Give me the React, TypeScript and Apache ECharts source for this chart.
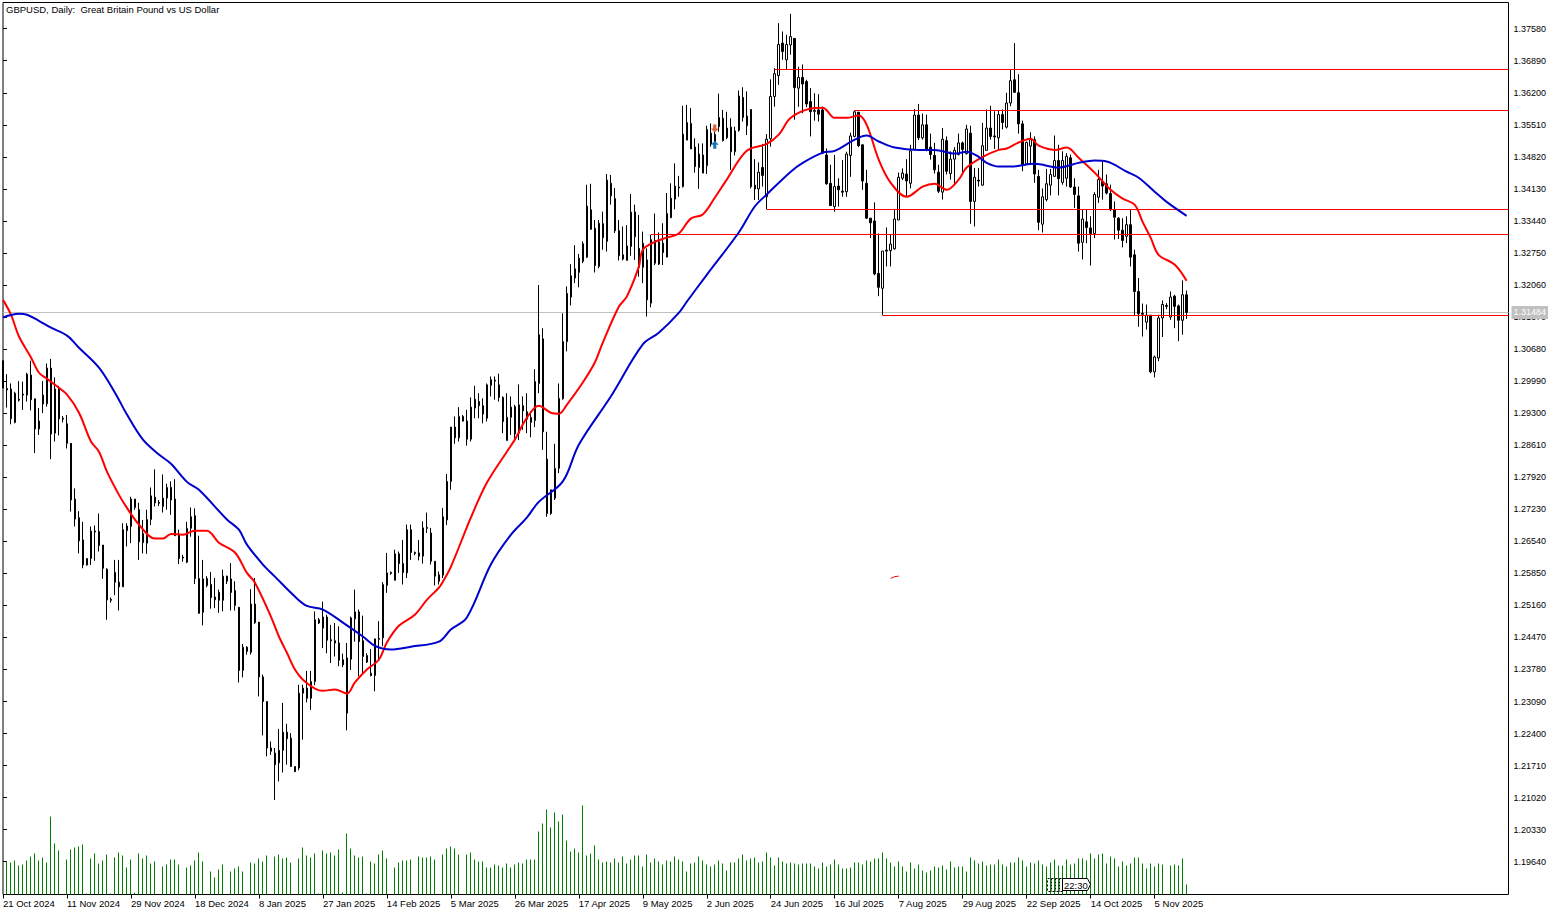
/** GBPUSD daily chart with moving averages, levels and tick volume */
import { useEffect, useRef } from "react";
import * as echarts from "echarts";

const CHART_FONT = "'Liberation Sans', sans-serif";

// every 16th bar gets a date label
const dateLabels = [
  "21 Oct 2024", "11 Nov 2024", "29 Nov 2024", "18 Dec 2024", "8 Jan 2025", "27 Jan 2025", "14 Feb 2025",
  "5 Mar 2025", "26 Mar 2025", "17 Apr 2025", "9 May 2025", "2 Jun 2025", "24 Jun 2025", "16 Jul 2025",
  "7 Aug 2025", "29 Aug 2025", "22 Sep 2025", "14 Oct 2025", "5 Nov 2025",
];

const priceTicks = [
  1.3758, 1.3689, 1.362, 1.3551, 1.3482, 1.3413, 1.3344, 1.3275, 1.3206, 1.3137, 1.3068, 1.2999, 1.293, 1.2861,
  1.2792, 1.2723, 1.2654, 1.2585, 1.2516, 1.2447, 1.2378, 1.2309, 1.224, 1.2171, 1.2102, 1.2033, 1.1964,
];

// open, high, low, close in 1/10000 of a dollar, one row per bar
const ohlc = [
  [13043, 13043, 12984, 12984], [12983, 13014, 12942, 12980], [12982, 12994, 12906, 12918], [12910, 12976, 12908, 12973],
  [12960, 12999, 12955, 12958], [12971, 12998, 12937, 12969], [12969, 13017, 12955, 13014], [13012, 13043, 12936, 12959],
  [12961, 12961, 12844, 12896], [12896, 12941, 12883, 12913], [12969, 12999, 12930, 12950], [12950, 13037, 12944, 13027],
  [13027, 13047, 12831, 12885], [12887, 13007, 12869, 12982], [12982, 12989, 12882, 12918], [12919, 12924, 12910, 12917],
  [12907, 12926, 12854, 12865], [12865, 12865, 12718, 12743], [12745, 12768, 12686, 12702], [12705, 12719, 12628, 12655],
  [12657, 12696, 12596, 12603], [12603, 12618, 12602, 12617], [12617, 12686, 12603, 12676], [12676, 12688, 12612, 12674],
  [12675, 12714, 12632, 12645], [12646, 12646, 12573, 12596], [12594, 12596, 12485, 12528], [12529, 12533, 12522, 12527],
  [12587, 12614, 12538, 12566], [12566, 12614, 12505, 12556], [12556, 12693, 12556, 12679], [12677, 12693, 12643, 12687],
  [12686, 12750, 12650, 12745], [12745, 12745, 12722, 12727], [12722, 12737, 12614, 12653], [12651, 12700, 12628, 12671],
  [12650, 12722, 12627, 12701], [12701, 12770, 12689, 12752], [12749, 12809, 12729, 12737], [12738, 12743, 12730, 12736],
  [12729, 12798, 12716, 12747], [12747, 12778, 12722, 12770], [12770, 12783, 12711, 12743], [12745, 12788, 12666, 12666],
  [12668, 12679, 12605, 12617], [12620, 12625, 12610, 12618], [12609, 12696, 12607, 12682], [12682, 12727, 12664, 12707],
  [12709, 12725, 12562, 12574], [12574, 12666, 12498, 12499], [12501, 12614, 12473, 12573], [12574, 12579, 12555, 12559],
  [12561, 12588, 12509, 12533], [12534, 12575, 12510, 12528], [12544, 12550, 12500, 12527], [12527, 12593, 12503, 12579],
  [12579, 12580, 12562, 12568], [12573, 12607, 12505, 12544], [12548, 12568, 12505, 12516], [12512, 12512, 12350, 12376],
  [12376, 12433, 12361, 12426], [12426, 12428, 12410, 12417], [12415, 12551, 12410, 12519], [12519, 12575, 12476, 12479],
  [12480, 12480, 12320, 12362], [12362, 12367, 12236, 12309], [12309, 12309, 12191, 12209], [12209, 12223, 12194, 12202],
  [12198, 12209, 12097, 12173], [12177, 12250, 12137, 12204], [12204, 12306, 12156, 12243], [12243, 12261, 12173, 12229],
  [12230, 12241, 12169, 12169], [12169, 12169, 12158, 12158], [12166, 12345, 12161, 12327], [12327, 12345, 12227, 12338],
  [12338, 12375, 12307, 12316], [12316, 12375, 12291, 12352], [12352, 12503, 12344, 12485], [12485, 12489, 12476, 12478],
  [12467, 12524, 12424, 12491], [12491, 12496, 12413, 12441], [12442, 12474, 12392, 12440], [12440, 12478, 12406, 12435],
  [12435, 12471, 12385, 12398], [12399, 12412, 12383, 12388], [12284, 12435, 12247, 12403], [12400, 12492, 12377, 12489],
  [12487, 12550, 12438, 12502], [12502, 12507, 12363, 12438], [12440, 12494, 12370, 12406], [12408, 12413, 12392, 12394],
  [12370, 12422, 12363, 12365], [12365, 12444, 12331, 12444], [12445, 12482, 12399, 12443], [12446, 12566, 12428, 12561],
  [12559, 12629, 12543, 12586], [12587, 12589, 12582, 12585], [12570, 12636, 12570, 12627], [12627, 12632, 12586, 12606],
  [12606, 12657, 12561, 12587], [12586, 12690, 12575, 12679], [12679, 12690, 12614, 12630], [12630, 12632, 12624, 12628],
  [12629, 12657, 12613, 12622], [12622, 12697, 12606, 12683], [12684, 12716, 12672, 12682], [12672, 12683, 12604, 12611],
  [12611, 12611, 12559, 12579], [12582, 12589, 12561, 12568], [12581, 12726, 12575, 12707], [12700, 12799, 12689, 12783],
  [12783, 12900, 12765, 12900], [12900, 12923, 12864, 12877], [12877, 12943, 12869, 12923], [12923, 12926, 12912, 12913],
  [12913, 12937, 12860, 12874], [12874, 12964, 12869, 12943], [12941, 12989, 12919, 12960], [12955, 12973, 12919, 12946],
  [12946, 12962, 12908, 12928], [12919, 12994, 12912, 12991], [12990, 13009, 12966, 13002], [13001, 13009, 12959, 12999],
  [12991, 13015, 12955, 12964], [12964, 12966, 12887, 12912], [12871, 12973, 12871, 12921], [12921, 12966, 12883, 12943],
  [12944, 12948, 12871, 12885], [12887, 12992, 12872, 12948], [12946, 12966, 12894, 12935], [12933, 12973, 12887, 12917],
  [12910, 12933, 12878, 12921], [12914, 13025, 12900, 12998], [12994, 13206, 12973, 13099], [13090, 13113, 12851, 12890],
  [12831, 12890, 12707, 12714], [12714, 12765, 12711, 12765], [12747, 12864, 12743, 12811], [12811, 12994, 12801, 12962],
  [12961, 13145, 12959, 13084], [13084, 13203, 13063, 13188], [13180, 13251, 13162, 13226], [13221, 13292, 13210, 13241],
  [13233, 13273, 13201, 13264], [13257, 13300, 13253, 13295], [13266, 13422, 13264, 13376], [13368, 13424, 13325, 13326],
  [13328, 13346, 13233, 13248], [13246, 13346, 13242, 13339], [13338, 13364, 13282, 13308], [13300, 13445, 13278, 13432],
  [13425, 13443, 13379, 13398], [13392, 13415, 13318, 13323], [13323, 13346, 13259, 13269], [13271, 13332, 13259, 13262],
  [13259, 13335, 13259, 13290], [13289, 13402, 13269, 13363], [13363, 13379, 13260, 13310], [13285, 13357, 13224, 13244],
  [13244, 13321, 13210, 13296], [13260, 13285, 13138, 13174], [13167, 13314, 13158, 13304], [13302, 13360, 13249, 13253],
  [13251, 13319, 13249, 13299], [13296, 13339, 13249, 13276], [13266, 13404, 13266, 13360], [13351, 13425, 13350, 13393],
  [13391, 13468, 13369, 13419], [13417, 13441, 13396, 13415], [13418, 13592, 13416, 13531], [13518, 13594, 13518, 13556],
  [13554, 13587, 13499, 13499], [13503, 13522, 13448, 13461], [13459, 13511, 13413, 13488], [13486, 13511, 13447, 13447],
  [13463, 13549, 13445, 13541], [13533, 13554, 13504, 13510], [13530, 13536, 13504, 13515], [13547, 13618, 13536, 13567],
  [13565, 13583, 13515, 13517], [13523, 13579, 13520, 13544], [13546, 13565, 13454, 13493], [13493, 13547, 13485, 13538],
  [13539, 13625, 13536, 13613], [13610, 13632, 13558, 13567], [13549, 13623, 13529, 13570], [13584, 13584, 13414, 13418],
  [13421, 13477, 13389, 13413], [13413, 13470, 13389, 13449], [13459, 13510, 13418, 13442], [13396, 13531, 13369, 13520],
  [13521, 13649, 13504, 13612], [13612, 13673, 13590, 13661], [13657, 13770, 13637, 13724], [13727, 13752, 13691, 13709],
  [13691, 13745, 13671, 13724], [13723, 13790, 13702, 13741], [13737, 13737, 13562, 13631], [13630, 13676, 13590, 13653],
  [13653, 13681, 13576, 13639], [13644, 13648, 13589, 13596], [13601, 13630, 13526, 13579], [13582, 13619, 13560, 13580],
  [13583, 13617, 13558, 13574], [13583, 13590, 13488, 13490], [13486, 13500, 13422, 13424], [13425, 13465, 13377, 13377],
  [13375, 13486, 13364, 13418], [13419, 13436, 13375, 13411], [13408, 13475, 13396, 13406], [13407, 13493, 13396, 13488],
  [13485, 13534, 13439, 13527], [13526, 13582, 13524, 13579], [13578, 13579, 13503, 13506], [13508, 13508, 13411, 13430],
  [13425, 13454, 13348, 13350], [13350, 13350, 13307, 13340], [13344, 13384, 13227, 13230], [13231, 13317, 13182, 13201],
  [13199, 13279, 13141, 13279], [13281, 13330, 13246, 13279], [13280, 13314, 13246, 13294], [13284, 13368, 13282, 13348],
  [13346, 13448, 13346, 13438], [13436, 13457, 13432, 13447], [13445, 13477, 13396, 13430], [13425, 13508, 13414, 13495],
  [13497, 13585, 13497, 13572], [13572, 13596, 13518, 13523], [13523, 13575, 13519, 13551], [13551, 13573, 13494, 13498],
  [13503, 13532, 13476, 13487], [13485, 13512, 13446, 13454], [13449, 13465, 13404, 13408], [13406, 13544, 13390, 13520],
  [13517, 13526, 13444, 13451], [13446, 13494, 13433, 13477], [13477, 13503, 13422, 13496], [13487, 13532, 13485, 13512],
  [13512, 13515, 13446, 13498], [13489, 13551, 13487, 13542], [13533, 13549, 13338, 13386], [13386, 13458, 13332, 13438],
  [13432, 13458, 13418, 13430], [13421, 13555, 13420, 13506], [13496, 13584, 13496, 13544], [13544, 13592, 13519, 13526],
  [13527, 13580, 13499, 13525], [13523, 13581, 13499, 13573], [13573, 13584, 13541, 13556], [13546, 13620, 13543, 13598],
  [13598, 13670, 13591, 13646], [13648, 13727, 13620, 13621], [13620, 13660, 13532, 13553], [13553, 13560, 13451, 13465],
  [13467, 13515, 13465, 13513], [13505, 13535, 13465, 13519], [13519, 13526, 13426, 13445], [13440, 13454, 13324, 13341],
  [13337, 13414, 13319, 13396], [13390, 13456, 13386, 13424], [13421, 13456, 13399, 13444], [13440, 13528, 13439, 13474],
  [13474, 13508, 13399, 13435], [13427, 13494, 13422, 13474], [13436, 13490, 13418, 13483], [13480, 13487, 13415, 13417],
  [13417, 13436, 13372, 13401], [13398, 13418, 13278, 13296], [13298, 13368, 13261, 13348], [13342, 13368, 13296, 13330],
  [13329, 13354, 13248, 13317], [13317, 13406, 13307, 13401], [13395, 13454, 13383, 13433], [13429, 13472, 13390, 13419],
  [13424, 13444, 13401, 13404], [13403, 13422, 13365, 13368], [13368, 13386, 13304, 13352], [13350, 13352, 13305, 13324],
  [13324, 13350, 13287, 13302], [13311, 13354, 13296, 13336], [13336, 13368, 13246, 13266], [13271, 13282, 13139, 13192],
  [13192, 13221, 13116, 13144], [13145, 13166, 13095, 13143], [13126, 13164, 13110, 13141], [13141, 13141, 13016, 13019],
  [13019, 13054, 13007, 13051], [13049, 13142, 13042, 13135], [13135, 13173, 13094, 13164], [13162, 13167, 13154, 13160],
  [13137, 13192, 13131, 13180], [13182, 13185, 13113, 13160], [13161, 13164, 13085, 13130], [13130, 13216, 13099, 13185],
  [13185, 13194, 13133, 13147],
];

// tick volume in thousands, one value per bar
const volumes = [
  0, 33, 32, 34, 29, 30, 34, 38, 41, 34, 37, 32, 78, 51, 44, 0, 35, 45, 47, 48, 50, 1, 36, 41, 31, 34, 40, 1, 37, 42,
  39, 27, 35, 2, 41, 36, 39, 31, 33, 0, 28, 30, 35, 35, 30, 0, 27, 29, 34, 42, 33, 0, 23, 17, 25, 30, 0, 23, 26, 28,
  23, 0, 32, 31, 36, 33, 39, 0, 38, 40, 36, 37, 32, 0, 36, 47, 39, 37, 41, 1, 44, 41, 42, 39, 45, 2, 61, 46, 39, 37,
  38, 1, 33, 31, 40, 44, 36, 0, 27, 32, 34, 34, 35, 0, 38, 37, 37, 38, 35, 0, 40, 46, 48, 46, 40, 0, 40, 42, 35, 33,
  33, 27, 27, 30, 29, 27, 31, 27, 30, 32, 31, 35, 35, 35, 63, 71, 85, 67, 82, 73, 80, 54, 43, 46, 42, 89, 39, 41, 49, 35,
  32, 33, 32, 36, 32, 38, 31, 35, 39, 39, 28, 40, 32, 36, 33, 30, 34, 33, 38, 35, 33, 23, 31, 32, 38, 34, 30, 28, 30, 34,
  31, 24, 32, 32, 36, 40, 34, 36, 37, 32, 33, 42, 37, 29, 37, 33, 31, 32, 31, 30, 31, 31, 31, 28, 26, 32, 28, 30, 35, 30,
  26, 26, 27, 32, 32, 30, 34, 33, 36, 36, 42, 36, 32, 28, 33, 28, 23, 32, 26, 30, 24, 22, 24, 28, 27, 29, 25, 33, 27, 28,
  28, 23, 37, 34, 31, 33, 29, 30, 30, 35, 30, 28, 32, 32, 37, 34, 28, 32, 31, 34, 30, 28, 32, 35, 29, 29, 35, 30, 31, 36,
  36, 34, 41, 36, 40, 41, 31, 38, 36, 28, 33, 29, 31, 37, 37, 31, 26, 31, 28, 31, 30, 0, 29, 30, 29, 36, 10,
];

// moving averages read at bar index, price in 1/10000
const fastAverage = [
  [0, 13174], [2, 13142], [4, 13095], [7, 13050], [9, 13017], [11, 13004], [13, 12991], [16, 12970], [19, 12931],
  [22, 12869], [24, 12847], [26, 12804], [29, 12754], [31, 12726], [34, 12690], [38, 12660], [40, 12660], [42, 12670],
  [45, 12668], [48, 12677], [51, 12677], [54, 12651], [58, 12630], [61, 12586], [63, 12565], [67, 12492], [69, 12449],
  [71, 12414], [73, 12378], [75, 12356], [78, 12337], [80, 12332], [83, 12335], [86, 12326], [88, 12350], [91, 12378],
  [94, 12399], [96, 12436], [99, 12472], [103, 12496], [106, 12528], [109, 12554], [110, 12567], [112, 12599],
  [117, 12705], [121, 12780], [126, 12847], [128, 12873], [131, 12920], [134, 12946], [137, 12931], [139, 12929],
  [141, 12948], [145, 12996], [148, 13039], [150, 13082], [154, 13159], [156, 13181], [159, 13245], [160, 13282],
  [163, 13299], [166, 13308], [169, 13317], [172, 13349], [175, 13358], [178, 13394], [181, 13433], [186, 13495],
  [191, 13510], [194, 13530], [197, 13566], [202, 13586], [205, 13588], [208, 13566], [211, 13566], [214, 13571],
  [216, 13551], [219, 13476], [222, 13426], [226, 13396], [230, 13418], [233, 13424], [236, 13411], [239, 13433],
  [241, 13459], [245, 13482], [249, 13497], [251, 13500], [254, 13513], [257, 13521], [259, 13506], [263, 13497],
  [266, 13502], [269, 13480], [273, 13448], [277, 13411], [280, 13392], [283, 13379], [285, 13342], [287, 13308],
  [289, 13271], [293, 13250], [296, 13215],
];

const slowAverage = [
  [0, 13136], [4, 13144], [6, 13142], [9, 13129], [12, 13114], [16, 13097], [19, 13071], [24, 13028], [28, 12974],
  [31, 12927], [35, 12873], [39, 12841], [42, 12821], [46, 12782], [49, 12765], [56, 12701], [59, 12679], [61, 12647],
  [65, 12604], [68, 12578], [73, 12535], [76, 12515], [80, 12507], [85, 12479], [90, 12449], [93, 12429], [97, 12421],
  [102, 12427], [109, 12438], [112, 12464], [116, 12490], [122, 12604], [127, 12668], [131, 12705], [134, 12739],
  [140, 12783], [144, 12862], [152, 12966], [160, 13078], [164, 13103], [169, 13146], [171, 13170], [176, 13228],
  [184, 13319], [188, 13375], [191, 13401], [197, 13450], [200, 13469], [205, 13491], [208, 13495], [213, 13519],
  [216, 13528], [219, 13515], [223, 13502], [229, 13497], [233, 13497], [238, 13489], [241, 13493], [244, 13482],
  [246, 13469], [249, 13461], [252, 13461], [258, 13467], [264, 13459], [269, 13469], [273, 13474], [276, 13472],
  [281, 13450], [284, 13437], [288, 13407], [291, 13385], [296, 13355],
];

// horizontal levels: first bar, price
const levels = [
  [193, 1.36701],
  [213, 1.35818],
  [191, 1.33686],
  [162, 1.33148],
  [220, 1.31403],
];

const bidPrice = 1.31468;
const bidText = "1.31484";
const strayMark = [[222, 12574], [223, 12578], [224, 12579]];
const sellArrow = [[178, 13543]];
const buyArrow = [[178, 13508]];

const X_MAX = 376.5;
const upArrow = "path://M5 0 L10 5 L7 5 L7 10 L3 10 L3 5 L0 5 Z";
const downArrow = "path://M3 0 L7 0 L7 5 L10 5 L5 10 L0 5 L3 5 Z";

const toPrice = (v: number) => v / 10000;

const flatLine = (data: number[][], color: string, z: number, extra = {}) => ({
  type: "line",
  data,
  showSymbol: false,
  symbol: "none",
  silent: true,
  z,
  lineStyle: { color, width: 1 },
  ...extra,
});

export default function App() {
  const chartRef = useRef<HTMLDivElement>(null);

  useEffect(() => {
    if (!chartRef.current) return;
    document.body.style.margin = "0";

    const chart = echarts.init(chartRef.current, undefined, { renderer: "svg" });

    const option = {
      animation: false,
      backgroundColor: "#fff",
      title: {
        text: "GBPUSD, Daily:  Great Britain Pound vs US Dollar",
        left: 6,
        top: 4,
        padding: 0,
        textStyle: { fontSize: 9.5, fontWeight: "normal", fontFamily: CHART_FONT, color: "#000" },
      },
      grid: {
        show: true,
        left: 2.5,
        top: 2.5,
        width: 1506,
        height: 892,
        borderColor: "#000",
        borderWidth: 1,
        backgroundColor: "#fff",
      },
      xAxis: {
        type: "value",
        min: 0,
        max: X_MAX,
        splitLine: { show: false },
        axisLine: { show: false },
        axisTick: {
          show: true,
          length: 4,
          lineStyle: { color: "#000" },
          customValues: dateLabels.map((_, i) => i * 16),
        },
        axisLabel: {
          customValues: dateLabels.map((_, i) => i * 16),
          formatter: (v: number) => dateLabels[v / 16] ?? "",
          align: "left",
          margin: 4,
          fontSize: 9.5,
          fontFamily: CHART_FONT,
          color: "#000",
        },
      },
      yAxis: [
        {
          type: "value",
          position: "right",
          min: 1.18934,
          max: 1.38144,
          splitLine: { show: false },
          axisLine: { show: false },
          axisTick: { show: true, length: 4, lineStyle: { color: "#000" }, customValues: priceTicks },
          axisLabel: {
            customValues: priceTicks,
            formatter: (v: number) => v.toFixed(5),
            margin: 5,
            fontSize: 9,
            fontFamily: CHART_FONT,
            color: "#000",
          },
        },
        { type: "value", show: false, min: 0, max: 892 },
      ],
      series: [
        // zero-width candles stay on whole pixels, plain 1px bars come out blurred
        {
          type: "candlestick",
          yAxisIndex: 1,
          barWidth: 0,
          silent: true,
          z: 1,
          itemStyle: { color: "#008000", color0: "#008000", borderColor: "#008000", borderColor0: "#008000", borderWidth: 1 },
          data: volumes.map((v, i) => [i, 0, v, 0, v]).filter((row) => row[2] > 0),
        },
        flatLine([[0, bidPrice], [X_MAX, bidPrice]], "#c0c0c0", 2, {
          endLabel: {
            show: true,
            formatter: bidText,
            distance: 3,
            backgroundColor: "#c0c0c0",
            color: "#fff",
            fontSize: 9,
            fontFamily: CHART_FONT,
            padding: [2, 2, 2, 2],
          },
        }),
        {
          type: "candlestick",
          barWidth: 2,
          silent: true,
          z: 3,
          itemStyle: { color: "#fff", color0: "#000", borderColor: "#000", borderColor0: "#000", borderWidth: 1 },
          data: ohlc.map(([o, h, l, c], i) => [i, toPrice(o), toPrice(c), toPrice(l), toPrice(h)]),
        },
        ...levels.map(([start, price]) => flatLine([[start, price], [X_MAX, price]], "#ff0000", 4)),
        flatLine(strayMark.map(([k, p]) => [k, toPrice(p)]), "#ff0000", 4),
        {
          type: "line",
          data: fastAverage.map(([k, p]) => [k, toPrice(p)]),
          showSymbol: false,
          symbol: "none",
          smooth: 0.35,
          silent: true,
          z: 5,
          lineStyle: { color: "#ff0000", width: 2 },
        },
        {
          type: "line",
          data: slowAverage.map(([k, p]) => [k, toPrice(p)]),
          showSymbol: false,
          symbol: "none",
          smooth: 0.35,
          silent: true,
          z: 5,
          lineStyle: { color: "#0000cd", width: 2 },
        },
        {
          type: "scatter",
          symbol: downArrow,
          symbolSize: 8,
          silent: true,
          z: 6,
          itemStyle: { color: "#e2603c", opacity: 1 },
          data: sellArrow.map(([k, p]) => [k, toPrice(p)]),
        },
        {
          type: "scatter",
          symbol: upArrow,
          symbolSize: 8,
          silent: true,
          z: 6,
          itemStyle: { color: "#1478be", opacity: 1 },
          data: buyArrow.map(([k, p]) => [k, toPrice(p)]),
        },
      ],
      graphic: [
        // bar countdown tag above the time axis
        {
          type: "group",
          silent: true,
          children: [
            {
              type: "rect",
              z: 10,
              shape: { x: 1047.5, y: 878.5, width: 15, height: 13 },
              style: { fill: "none", stroke: "#000", lineWidth: 1, lineDash: [2, 2] },
            },
            ...[1051.5, 1055.5, 1059.5].map((x) => ({
              type: "line",
              z: 10,
              shape: { x1: x, y1: 878.5, x2: x, y2: 891.5 },
              style: { stroke: "#000", lineWidth: 1, lineDash: [2, 1] },
            })),
            {
              type: "polygon",
              z: 10,
              shape: { points: [[1062.5, 878.5], [1087.5, 878.5], [1090.5, 884.5], [1087.5, 890.5], [1062.5, 890.5]] },
              style: { fill: "#fff", stroke: "#000", lineWidth: 1 },
            },
            {
              type: "text",
              z: 11,
              x: 1064,
              y: 880,
              style: { text: "22:30", fontSize: 9.5, fontFamily: CHART_FONT, fill: "#000" },
            },
          ],
        },
      ],
    };

    chart.setOption(option);

    return () => {
      chart.dispose();
    };
  }, []);

  return <div ref={chartRef} style={{ width: "1561px", height: "915px" }} />;
}
